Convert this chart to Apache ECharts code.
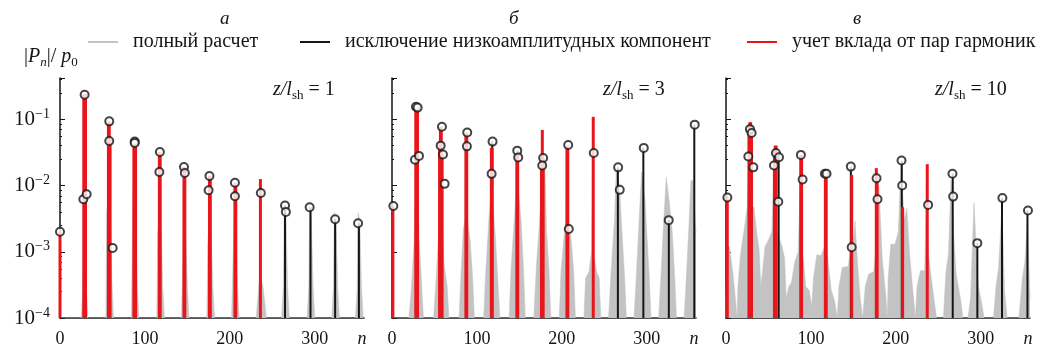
<!DOCTYPE html>
<html>
<head>
<meta charset="utf-8">
<script src="https://cdn.jsdelivr.net/npm/echarts@6/dist/echarts.min.js"></script>
<style>
  html, body { margin: 0; padding: 0; background: #fff; }
  #main { width: 1041px; height: 354px; }
</style>
</head>
<body>
<div id="main"></div>
<script>
// --- data ---
const seriesNames = ['полный расчет', 'исключение низкоамплитудных компонент', 'учет вклада от пар гармоник']
const panelLetters = ['а', 'б', 'в']
const zRatios = ['1', '3', '10']
const xTicks = [0, 100, 200, 300]
const yTicks = [1e-4, 1e-3, 1e-2, 1e-1]

// full calculation (gray spectrum), [n, |Pn|/p0]
const grayA = [
  [0, 1e-4], [25, 1e-4], [27, 3e-4], [28, 0.002], [29, 0.2], [30, 0.002], [31, 3e-4], [33, 1e-4],
  [54, 1e-4], [55, 0.004], [57, 0.006], [58, 0.08], [59, 0.006], [61, 4e-4], [63, 1e-4],
  [84, 1e-4], [86, 0.009], [87, 0.01], [88, 0.04], [89, 0.005], [91, 3e-4], [93, 1e-4],
  [114, 1e-4], [115, 0.0019], [117, 0.003], [118, 0.025], [119, 0.003], [121, 3e-4], [123, 1e-4],
  [143, 1e-4], [145, 0.0015], [146, 0.003], [147, 0.015], [148, 0.002], [150, 3e-4], [152, 1e-4],
  [173, 1e-4], [174, 0.0013], [176, 0.003], [177, 0.011], [178, 0.002], [180, 3e-4], [182, 1e-4],
  [202, 1e-4], [204, 0.001], [205, 0.002], [206, 0.009], [207, 0.002], [209, 3e-4], [211, 1e-4],
  [231, 1e-4], [233, 2e-4], [235, 4e-4], [236, 0.008], [237, 4e-4], [239, 3e-4], [241, 1.8e-4], [243, 1e-4],
  [261, 1e-4], [263, 3e-4], [264, 0.004], [265, 0.005], [266, 0.004], [268, 3e-4], [270, 1e-4],
  [291, 1e-4], [293, 3e-4], [294, 0.0039], [295, 0.0045], [296, 0.003], [298, 3e-4], [300, 1e-4],
  [320, 1e-4], [322, 3e-4], [323, 0.004], [324, 0.004], [325, 0.003], [327, 3e-4], [329, 1e-4],
  [348, 1e-4], [350, 3e-4], [351, 0.0039], [352, 0.0039], [353, 0.003], [355, 3e-4], [357, 1e-4]
]
const grayB = [
  [0, 1e-4], [20, 1e-4], [23, 3e-4], [26, 0.0015], [27, 0.005], [28, 0.1], [30, 0.1], [31, 0.005], [32, 0.0015], [35, 3e-4], [37, 1e-4],
  [49, 1e-4], [52, 4e-4], [55, 0.002], [56, 0.007], [57, 0.06], [58, 0.06], [59, 0.005], [61, 7e-4], [65, 3e-4], [67, 1e-4],
  [79, 1e-4], [81, 4e-4], [84, 0.0022], [86, 0.003], [87, 0.04], [88, 0.04], [89, 0.003], [92, 0.0015], [95, 4e-4], [97, 1e-4],
  [108, 1e-4], [110, 4e-4], [114, 0.003], [116, 0.006], [117, 0.03], [118, 0.03], [119, 0.005], [122, 0.0015], [125, 3e-4], [127, 1e-4],
  [138, 1e-4], [140, 5e-4], [144, 0.003], [146, 0.008], [147, 0.025], [148, 0.025], [149, 0.008], [152, 0.003], [155, 5e-4], [157, 1e-4],
  [167, 1e-4], [170, 6e-4], [173, 0.002], [175, 0.005], [176, 0.03], [178, 0.03], [180, 0.021], [181, 0.02], [182, 0.002], [185, 5e-4], [187, 1e-4],
  [197, 1e-4], [199, 5e-4], [203, 0.0019], [205, 0.003], [206, 0.03], [207, 0.03], [208, 0.003], [211, 0.0015], [214, 5e-4], [216, 1e-4],
  [226, 1e-4], [228, 4e-4], [232, 5e-4], [235, 0.001], [236, 0.03], [237, 0.001], [241, 5e-4], [244, 4e-4], [246, 1e-4],
  [255, 1e-4], [258, 5e-4], [262, 0.003], [264, 0.0168], [266, 0.0168], [268, 0.01], [270, 0.003], [274, 4e-4], [276, 1e-4],
  [285, 1e-4], [288, 5e-4], [291, 0.003], [294, 0.016], [296, 0.016], [298, 0.006], [300, 0.002], [303, 4e-4], [305, 1e-4],
  [314, 1e-4], [317, 5e-4], [320, 0.003], [323, 0.0133], [325, 0.0133], [327, 0.005], [330, 0.002], [333, 4e-4], [335, 1e-4],
  [344, 1e-4], [347, 5e-4], [350, 0.003], [352, 0.0118], [355, 0.012], [357, 0.003], [358, 0.002]
]
const grayC = [
  [0, 1e-4], [1, 0.0012], [4, 0.0012], [8, 5e-4], [11, 2e-4], [13, 1e-4],
  [14, 3e-4], [17, 9e-4], [21, 0.002], [25, 0.0047], [27, 0.0047], [28, 0.05], [29, 0.05], [30, 0.0047], [33, 0.0047], [36, 0.002], [39, 0.0011], [41, 3e-4],
  [43, 5e-4], [46, 0.0012], [50, 0.0015], [54, 0.002], [56, 0.002], [57, 0.03], [59, 0.03], [60, 0.002], [62, 0.002], [66, 0.0012], [69, 8e-4], [71, 2e-4],
  [74, 3e-4], [77, 3.4e-4], [81, 7e-4], [85, 0.001], [87, 0.001], [88, 0.02], [89, 0.001], [91, 8e-4], [94, 3e-4], [98, 2.6e-4], [101, 1.5e-4],
  [103, 4e-4], [107, 9e-4], [112, 8.7e-4], [116, 0.0012], [117, 0.01], [118, 0.01], [119, 0.001], [121, 0.001], [124, 2.6e-4], [128, 1.8e-4], [131, 1e-4],
  [133, 3e-4], [137, 5.8e-4], [144, 6e-4], [146, 0.001], [147, 0.01], [148, 0.001], [150, 0.0015], [152, 0.0029], [154, 0.001], [158, 2e-4], [161, 1e-4],
  [164, 3e-4], [168, 4.6e-4], [174, 5e-4], [176, 0.001], [177, 0.0099], [178, 0.001], [180, 0.0099], [182, 0.0099], [184, 8e-4], [188, 2.3e-4], [190, 1e-4],
  [191, 4e-4], [194, 0.0013], [199, 0.0013], [203, 0.002], [206, 0.02], [208, 0.02], [210, 0.003], [213, 0.0045], [216, 0.001], [220, 2.6e-4], [223, 1e-4],
  [225, 3e-4], [229, 5.2e-4], [234, 5.2e-4], [236, 0.01], [238, 0.001], [243, 3e-4], [248, 1e-4],
  [256, 1e-4], [259, 5e-4], [262, 9.2e-4], [264, 9.2e-4], [265, 0.012], [267, 0.012], [268, 0.002], [271, 4.6e-4], [276, 2e-4], [279, 1e-4],
  [285, 1e-4], [288, 2e-4], [292, 0.0055], [294, 0.0055], [297, 3e-4], [300, 2e-4], [304, 1e-4],
  [315, 1e-4], [318, 3e-4], [321, 5.8e-4], [325, 0.005], [328, 2.6e-4], [331, 1e-4],
  [345, 1e-4], [349, 4e-4], [352, 7e-4], [355, 0.003], [358, 2e-4]
]

// low-amplitude components excluded (black stems), [n, value]
const blackA = [[265, 0.005], [295, 0.0047], [324, 0.0031], [352, 0.0027]]
const blackB = [[118, 0.046], [148, 0.0336], [266, 0.0188], [296, 0.037], [326, 0.003], [356, 0.083]]
const blackC = [[62, 0.0267], [147, 0.0193], [207, 0.0238], [267, 0.0151], [296, 0.00135], [325, 0.0065], [355, 0.0042]]

// contribution of harmonic pairs (red stems), [n, value]
const redA = [
  [0, 0.002], [28, 0.24], [29, 0.24], [30, 0.24], [57, 0.09], [58, 0.093], [59, 0.05],
  [87, 0.045], [88, 0.046], [89, 0.044], [117, 0.032], [118, 0.03], [146, 0.019], [147, 0.018],
  [176, 0.014], [177, 0.013], [206, 0.011], [207, 0.01], [236, 0.0125]
]
const redB = [
  [1, 0.0049], [28, 0.155], [29, 0.155], [30, 0.15], [56, 0.04], [57, 0.077], [58, 0.077], [59, 0.03],
  [87, 0.06], [88, 0.063], [117, 0.037], [118, 0.037], [147, 0.03], [148, 0.03],
  [176, 0.026], [177, 0.069], [178, 0.026], [206, 0.04], [207, 0.04], [237, 0.109]
]
const redC = [
  [1.5, 0.0066], [27, 0.07], [28, 0.09], [29, 0.09], [30, 0.07], [57, 0.035], [58, 0.04], [59, 0.04],
  [88, 0.029], [89, 0.028], [117, 0.015], [118, 0.015], [148, 0.0145],
  [177, 0.0183], [178, 0.013], [208, 0.0047], [237, 0.021]
]

// marked harmonics (open circles), [n, value]
const circlesA = [
  [0, 0.002], [29, 0.235], [27.5, 0.0062], [31.4, 0.0074], [58, 0.093], [58, 0.047], [62, 0.00114],
  [88, 0.046], [88, 0.044], [117.6, 0.032], [117, 0.016], [146, 0.019], [147, 0.0155],
  [176, 0.0139], [175, 0.0085], [206, 0.011], [206, 0.0069], [236.5, 0.0077],
  [265, 0.005], [266, 0.004], [294, 0.0047], [324, 0.0031], [351, 0.0027]
]
const circlesB = [
  [1.6, 0.0049], [28.2, 0.155], [30.2, 0.15], [27, 0.0245], [31.8, 0.028], [58.8, 0.077], [57.3, 0.04],
  [60, 0.0294], [62, 0.0106], [88.6, 0.063], [88.2, 0.039], [118.4, 0.046], [117.3, 0.015],
  [147.5, 0.0336], [148.6, 0.0266], [178, 0.026], [176.9, 0.02], [207.5, 0.041], [208.2, 0.0022],
  [237.6, 0.031], [266.3, 0.0188], [268.2, 0.0086], [296.5, 0.037], [325.9, 0.003], [356.5, 0.083]
]
const circlesC = [
  [1.6, 0.0066], [28.2, 0.071], [30.2, 0.062], [26.3, 0.0275], [32.2, 0.0188], [58.8, 0.031], [62.4, 0.0267],
  [56.5, 0.02], [61.6, 0.0057], [88.2, 0.029], [90.2, 0.0123], [116.5, 0.0151], [118.4, 0.0151],
  [147, 0.0193], [148, 0.00117], [177.3, 0.0129], [178.4, 0.0062], [206.7, 0.0238], [207.5, 0.01],
  [238, 0.0051], [266.7, 0.0151], [267.5, 0.0068], [296, 0.00135], [325.5, 0.0065], [355.6, 0.0042]
]

const grayData = [grayA, grayB, grayC]
const blackData = [blackA, blackB, blackC]
const redData = [redA, redB, redC]
const circleData = [circlesA, circlesB, circlesC]

const FONT = '"Liberation Serif", "DejaVu Serif", serif'
const GRAY = '#c3c3c3'
const BLACK = '#151515'
const RED = '#e8161c'
const YMIN = 1e-4
const YMAX = 0.42
const XMAX = 358
const gridLefts = [60, 392, 726]

const myChart = echarts.init(document.getElementById('main'))

function stemSeries (name, data, color, width, idx, z) {
  return {
    type: 'custom',
    name: name,
    xAxisIndex: idx,
    yAxisIndex: idx,
    z: z,
    silent: true,
    itemStyle: { color: color },
    encode: { x: 0, y: 1 },
    renderItem: function (params, api) {
      const top = api.coord([api.value(0), api.value(1)])
      const base = api.coord([api.value(0), YMIN])
      return {
        type: 'line',
        shape: { x1: top[0], y1: top[1], x2: base[0], y2: base[1] },
        style: { stroke: color, lineWidth: width }
      }
    },
    data: data
  }
}

const grids = []
const xAxes = []
const yAxes = []
const series = []
const graphics = []

for (let p = 0; p < 3; p++) {
  grids.push({ left: gridLefts[p], top: 78, width: 304, height: 240 })
  xAxes.push({
    type: 'value',
    gridIndex: p,
    min: 0,
    max: XMAX,
    interval: 100,
    name: 'n',
    nameLocation: 'end',
    nameGap: -2,
    nameTextStyle: { fontFamily: FONT, fontStyle: 'italic', fontSize: 18, color: BLACK, align: 'center', verticalAlign: 'top', padding: [12, 0, 0, 0] },
    axisLine: { lineStyle: { color: BLACK, width: 1.5 } },
    axisTick: { show: false },
    splitLine: { show: false },
    axisLabel: {
      margin: 12,
      fontFamily: FONT,
      fontSize: 18,
      color: BLACK,
      formatter: function (v) { return xTicks.indexOf(v) >= 0 ? String(v) : '' }
    }
  })
  yAxes.push({
    type: 'log',
    logBase: 10,
    gridIndex: p,
    min: YMIN,
    max: YMAX,
    axisLine: { show: true, lineStyle: { color: BLACK, width: 1.5 } },
    axisTick: { show: true, inside: true, length: 5, lineStyle: { color: BLACK } },
    minorTick: { show: true, splitNumber: 6, length: 2, lineStyle: { color: BLACK } },
    splitLine: { show: false },
    axisLabel: {
      show: p === 0,
      margin: 10,
      formatter: function (v) {
        const e = Math.log10(v)
        const r = Math.round(e)
        if (Math.abs(e - r) > 1e-6 || yTicks.indexOf(Math.pow(10, r)) < 0) return ''
        return '{b|10}{s|−' + (-r) + '}'
      },
      rich: {
        b: { fontFamily: FONT, fontSize: 21, color: BLACK, lineHeight: 24 },
        s: { fontFamily: FONT, fontSize: 14, color: BLACK, verticalAlign: 'top' }
      }
    }
  })

  series.push({
    type: 'line',
    name: seriesNames[0],
    xAxisIndex: p,
    yAxisIndex: p,
    z: 1,
    silent: true,
    symbol: 'none',
    lineStyle: { color: GRAY, width: 0.5 },
    itemStyle: { color: GRAY },
    areaStyle: { color: GRAY, opacity: 1 },
    data: grayData[p]
  })
  series.push(stemSeries(seriesNames[1], blackData[p], BLACK, 2, p, 2))
  series.push(stemSeries(seriesNames[2], redData[p], RED, 3, p, 3))
  series.push({
    type: 'scatter',
    name: 'circles',
    xAxisIndex: p,
    yAxisIndex: p,
    z: 4,
    silent: true,
    symbol: 'circle',
    symbolSize: 8,
    itemStyle: { color: '#fff', borderColor: BLACK, borderWidth: 2 },
    data: circleData[p]
  })

  graphics.push({
    type: 'text',
    left: [220, 509, 853][p],
    top: 9,
    style: { text: panelLetters[p], fontFamily: FONT, fontStyle: 'italic', fontSize: 19, fill: BLACK }
  })
  graphics.push({
    type: 'text',
    left: [273, 603, 935][p],
    top: 80,
    style: {
      text: '{i|z/l}{sub|sh}{t| = ' + zRatios[p] + '}',
      rich: {
        i: { fontFamily: FONT, fontStyle: 'italic', fontSize: 20, fill: BLACK, lineHeight: 24 },
        sub: { fontFamily: FONT, fontSize: 13, fill: BLACK, verticalAlign: 'bottom' },
        t: { fontFamily: FONT, fontSize: 20, fill: BLACK, lineHeight: 24 }
      }
    }
  })
}

graphics.push({
  type: 'text',
  left: 24,
  top: 47,
  style: {
    text: '{t||}{i|P}{sub|n}{t||/ }{i|p}{s0|0}',
    rich: {
      t: { fontFamily: FONT, fontSize: 20, fill: BLACK, lineHeight: 24 },
      i: { fontFamily: FONT, fontStyle: 'italic', fontSize: 20, fill: BLACK, lineHeight: 24 },
      sub: { fontFamily: FONT, fontStyle: 'italic', fontSize: 13, fill: BLACK, verticalAlign: 'bottom' },
      s0: { fontFamily: FONT, fontSize: 13, fill: BLACK, verticalAlign: 'bottom' }
    }
  }
})

const legendColors = [GRAY, BLACK, RED]
const legendLefts = [88, 300, 747]
const legends = seriesNames.map(function (name, i) {
  return {
    left: legendLefts[i],
    top: 32,
    padding: 0,
    selectedMode: false,
    itemWidth: 30,
    itemHeight: 2,
    textStyle: { fontFamily: FONT, fontSize: 20, color: BLACK, padding: [0, 0, 0, 10] },
    data: [{ name: name, icon: 'rect', itemStyle: { color: legendColors[i] } }]
  }
})

myChart.setOption({
  animation: false,
  backgroundColor: '#fff',
  legend: legends,
  grid: grids,
  xAxis: xAxes,
  yAxis: yAxes,
  graphic: graphics,
  series: series
})
</script>
</body>
</html>
